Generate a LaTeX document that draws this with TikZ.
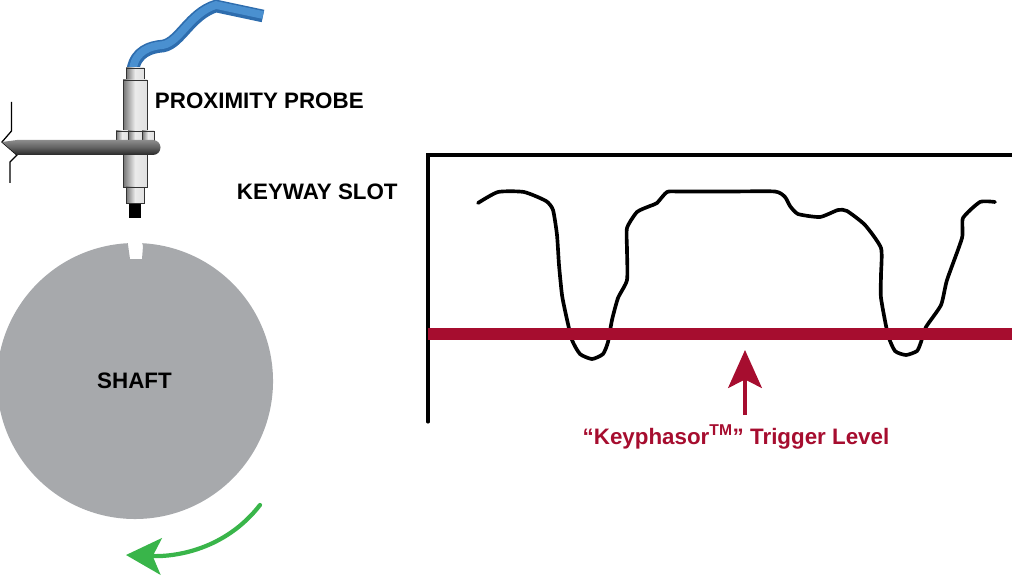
\documentclass[tikz,border=0pt]{standalone}
\usepackage{fontspec}
\setmainfont{Liberation Sans}
\usetikzlibrary{arrows.meta}
\definecolor{shaftgray}{HTML}{A7A9AC}
\definecolor{triggerred}{HTML}{A60D2F}
\definecolor{spingreen}{HTML}{39B54A}
\definecolor{cableblue}{HTML}{4A90D0}
\definecolor{cabledark}{HTML}{2E6DAE}
\tikzset{
    label/.style={font=\bfseries\fontsize{15.9}{18}\selectfont},
    metal/.style={draw=black!80, line width=0.6pt, left color=black!55, right color=black!12, middle color=black!8},
}
\begin{document}
\begin{tikzpicture}[x=0.025cm, y=-0.025cm]
    \useasboundingbox (0, 0) rectangle (1012, 577);
    % shaft
    \fill[shaftgray] (127.8, 243.2) arc[start angle=-93, end angle=-447, radius=138]
        -- (143, 246) -- (142, 259) -- (130, 259) -- cycle;
    \node[label] (shaft) at (134.5, 381) {SHAFT};
    % cable
    \draw[cabledark, line width=9pt] (133, 69) .. controls (136, 52) and (150, 47) .. (163, 46)
        .. controls (180, 43) and (190, 14) .. (216, 6) -- (263, 16);
    \draw[cableblue, line width=5.5pt] (133, 68) .. controls (136, 51) and (150, 46) .. (163, 45)
        .. controls (180, 42) and (190, 13) .. (216, 5) -- (263, 15);
    % probe
    \path[metal] (126, 68) rectangle (144, 81);
    \path[metal] (123, 80) rectangle (147, 187);
    \path[metal] (126, 187) rectangle (144, 203);
    \fill[black] (129, 204) rectangle (141, 218);
    \path[metal] (116, 131) rectangle (128, 141);
    \path[metal] (128, 131) rectangle (142, 141);
    \path[metal] (142, 131) rectangle (154, 141);
    % bracket
    \draw[line width=0.9pt] (11.5, 102) -- (11.5, 131) -- (2, 142) -- (17, 155) -- (10, 162) -- (10, 183);
    \shade[top color=black!45, bottom color=black!85, middle color=black!62]
        (2, 142) -- (17, 140) -- (153, 140) arc[start angle=-90, end angle=90, radius=7.5] -- (17, 155) -- cycle;
    % labels
    \node[label, anchor=west] (probe) at (150, 100.5) {PROXIMITY PROBE};
    \node[label, anchor=west] (keyway) at (232, 192) {KEYWAY SLOT};
    % scope axes
    \draw[line width=2.2pt, line cap=round] (428, 422) -- (428, 155) -- (1012, 155);
    % signal
    \draw[line width=2.6pt, line join=round, line cap=round] plot[smooth, tension=0.35] coordinates {
        (478, 203) (498, 192) (524, 192) (546, 201) (553, 210) (557, 235) (559, 265) (562, 295)
        (566, 315) (572, 340) (580, 354) (592, 359) (603, 354) (608, 342) (612, 320) (618, 298)
        (627, 280) (627, 250) (627, 228) (637, 212) (650, 206) (657, 203) (667, 192) (680, 191.5)
        (730, 191.5) (775, 191.5) (785, 197) (790, 206) (798, 214) (820, 217) (838, 210) (847, 211)
        (865, 225) (881, 248) (881, 275) (881, 298) (888, 335) (895, 351) (906, 355) (917, 351)
        (921, 342) (926, 327) (941, 305) (947, 280) (962, 238) (963, 218) (980, 202) (995, 202)};
    % trigger level
    \draw[triggerred, line width=8.5pt] (428, 334) -- (1012, 334);
    \coordinate (triggertail) at (745, 415);
    \coordinate (triggertip) at (745, 350);
    \draw[triggerred, line width=2.4pt, -{Stealth[length=27pt, width=24pt, inset=6pt]}] (triggertail) -- (triggertip);
    \node[label, text=triggerred] (trigger) at (736, 437) {“Keyphasor\textsuperscript{TM}” Trigger Level};
    % rotation
    \coordinate (spinstart) at (260, 505);
    \coordinate (spinend) at (126, 555);
    \draw[spingreen, line width=3pt, line cap=round, -{Stealth[length=25pt, width=26pt, inset=6pt]}]
        (spinstart) .. controls (225, 550) and (175, 557) .. (spinend);
\end{tikzpicture}
\end{document}
